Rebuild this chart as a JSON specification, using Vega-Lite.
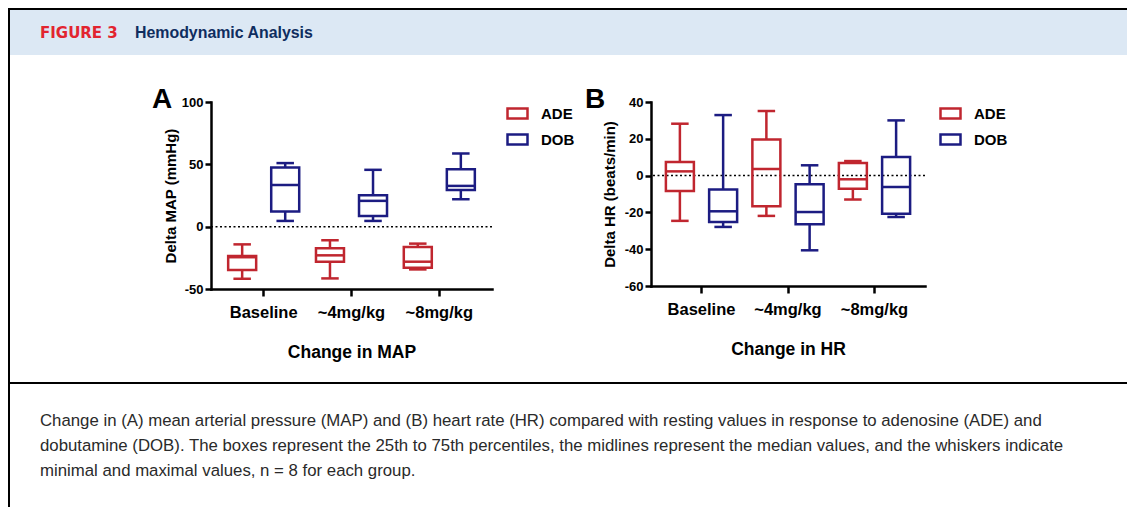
{
  "$schema": "https://vega.github.io/schema/vega-lite/v6.json",
  "padding": {"left": 8, "top": 8, "right": 0, "bottom": 0},
  "background": "white",
  "spacing": 0,
  "bounds": "flush",
  "resolve": {"scale": {"color": "independent", "xOffset": "independent"}, "legend": {"color": "independent"}},
  "config": {
    "view": {"stroke": null},
    "font": "Liberation Sans",
    "tick": {"opacity": 1},
    "axis": {"domainColor": "black", "domainWidth": 2.5, "domainCap": "square", "tickColor": "black", "tickWidth": 2.5, "labelColor": "black", "labelFontWeight": "bold", "titleColor": "black", "titleFontWeight": "bold", "grid": false, "labelFont": "Liberation Sans", "titleFont": "Liberation Sans", "labelOverlap": false},
    "axisX": {"labelFontSize": 16.5, "labelAngle": 0, "tickSize": 7, "labelPadding": 8, "titleFontSize": 17.5, "titlePadding": 23},
    "axisY": {"labelFontSize": 13, "tickSize": 6, "labelPadding": 2, "titleFontSize": 15, "titlePadding": 3},
    "legend": {"orient": "right", "offset": 14, "padding": 0, "symbolType": "M-1,-0.5H1V0.5H-1Z", "symbolSize": 400, "symbolStrokeWidth": 2.5, "symbolFillColor": "white", "labelFontSize": 15, "labelFontWeight": "bold", "labelColor": "black", "labelFont": "Liberation Sans", "labelOffset": 12, "rowPadding": 4}
  },
  "hconcat": [
    {"width": 2, "height": 499, "view": {"fill": "black", "stroke": null}, "data": {"values": []}, "mark": "text", "encoding": {}},
    {
      "spacing": 0,
      "bounds": "flush",
      "resolve": {"scale": {"color": "independent", "xOffset": "independent"}, "legend": {"color": "independent"}},
      "vconcat": [
        {"width": 1117, "height": 2, "view": {"fill": "black", "stroke": null}, "data": {"values": []}, "mark": "text", "encoding": {}},
        {
          "spacing": 0,
          "bounds": "flush",
          "hconcat": [
            {"width": 125, "height": 45, "view": {"fill": "#dce8f4", "stroke": null}, "data": {"values": []}, "mark": "text", "encoding": {},
             "title": {"text": "FIGURE 3", "orient": "top", "anchor": "start", "frame": "group", "dx": 30, "offset": -43, "baseline": "alphabetic", "color": "#e2242f", "font": "DejaVu Sans", "fontSize": 15, "fontWeight": "bold"}},
            {"width": 992, "height": 45, "view": {"fill": "#dce8f4", "stroke": null}, "data": {"values": []}, "mark": "text", "encoding": {},
             "title": {"text": "Hemodynamic Analysis", "orient": "top", "anchor": "start", "frame": "group", "dx": 0, "offset": -44, "baseline": "alphabetic", "color": "#0f2d5f", "font": "Liberation Sans", "fontSize": 15.9, "fontWeight": "bold"}}
          ]
        },
        {"width": 10, "height": 92, "data": {"values": []}, "mark": "text", "encoding": {}},
        {
          "spacing": 159,
          "bounds": "flush",
          "resolve": {"scale": {"color": "independent", "xOffset": "independent"}, "legend": {"color": "independent"}},
          "hconcat": [
            {"width": 42, "height": 10, "data": {"values": []}, "mark": "text", "encoding": {}},
            {
              "width": 281,
              "height": 187,
              "title": {"text": "A", "orient": "top", "anchor": "start", "frame": "group", "dx": -59, "offset": -40, "baseline": "alphabetic", "fontSize": 28, "fontWeight": "bold", "font": "Liberation Sans", "color": "black"},
              "data": {"values": [
                {"dose": "Baseline", "drug": "ADE", "min": -41.8, "q1": -34.8, "median": -24.5, "q3": -23.5, "max": -14.2},
                {"dose": "Baseline", "drug": "DOB", "min": 4.6, "q1": 12.1, "median": 33.5, "q3": 47.4, "max": 51},
                {"dose": "~4mg/kg", "drug": "ADE", "min": -41.5, "q1": -28.1, "median": -23, "q3": -17.4, "max": -10.9},
                {"dose": "~4mg/kg", "drug": "DOB", "min": 4.6, "q1": 8.6, "median": 20.7, "q3": 25.2, "max": 45.6},
                {"dose": "~8mg/kg", "drug": "ADE", "min": -34.3, "q1": -32.9, "median": -28.1, "q3": -16.3, "max": -13.6},
                {"dose": "~8mg/kg", "drug": "DOB", "min": 22, "q1": 29.5, "median": 32.7, "q3": 46.1, "max": 58.7}
              ]},
              "layer": [
                {"data": {"values": [{}]}, "mark": {"type": "rule", "strokeDash": [2, 2.5], "strokeWidth": 1.5, "color": "black"},
                 "encoding": {"y": {"datum": 0, "type": "quantitative", "scale": {"domain": [-50, 100], "nice": false, "zero": false}, "title": "Delta MAP (mmHg)", "axis": {"values": [-50, 0, 50, 100], "labelExpr": "datum.value + ''"}}}},
                {"mark": {"type": "bar", "filled": false, "strokeWidth": 2.5, "width": 28},
                 "encoding": {
                   "x": {"field": "dose", "type": "nominal", "sort": ["Baseline", "~4mg/kg", "~8mg/kg"], "scale": {"paddingInner": 0, "paddingOuter": 0.1}, "title": "Change in MAP"},
                   "xOffset": {"field": "drug", "type": "nominal", "sort": ["ADE", "DOB"], "scale": {"paddingInner": 0, "paddingOuter": 0.02}},
                   "y": {"field": "q1", "type": "quantitative", "scale": {"domain": [-50, 100], "nice": false, "zero": false}, "title": "Delta MAP (mmHg)", "axis": {"values": [-50, 0, 50, 100], "labelExpr": "datum.value + ''"}},
                   "y2": {"field": "q3"},
                   "color": {"field": "drug", "type": "nominal", "scale": {"domain": ["ADE", "DOB"], "range": ["#c0262f", "#1c1c82"]}, "legend": {"title": null}}
                 }},
                {"mark": {"type": "rule", "strokeWidth": 2.5},
                 "encoding": {
                   "x": {"field": "dose", "type": "nominal", "sort": ["Baseline", "~4mg/kg", "~8mg/kg"], "scale": {"paddingInner": 0, "paddingOuter": 0.1}, "title": "Change in MAP"},
                   "xOffset": {"field": "drug", "type": "nominal", "sort": ["ADE", "DOB"], "scale": {"paddingInner": 0, "paddingOuter": 0.02}},
                   "y": {"field": "min", "type": "quantitative", "scale": {"domain": [-50, 100], "nice": false, "zero": false}, "title": "Delta MAP (mmHg)", "axis": {"values": [-50, 0, 50, 100], "labelExpr": "datum.value + ''"}},
                   "y2": {"field": "q1"},
                   "color": {"field": "drug", "type": "nominal", "scale": {"domain": ["ADE", "DOB"], "range": ["#c0262f", "#1c1c82"]}, "legend": {"title": null}}
                 }},
                {"mark": {"type": "rule", "strokeWidth": 2.5},
                 "encoding": {
                   "x": {"field": "dose", "type": "nominal", "sort": ["Baseline", "~4mg/kg", "~8mg/kg"], "scale": {"paddingInner": 0, "paddingOuter": 0.1}, "title": "Change in MAP"},
                   "xOffset": {"field": "drug", "type": "nominal", "sort": ["ADE", "DOB"], "scale": {"paddingInner": 0, "paddingOuter": 0.02}},
                   "y": {"field": "q3", "type": "quantitative", "scale": {"domain": [-50, 100], "nice": false, "zero": false}, "title": "Delta MAP (mmHg)", "axis": {"values": [-50, 0, 50, 100], "labelExpr": "datum.value + ''"}},
                   "y2": {"field": "max"},
                   "color": {"field": "drug", "type": "nominal", "scale": {"domain": ["ADE", "DOB"], "range": ["#c0262f", "#1c1c82"]}, "legend": {"title": null}}
                 }},
                {"mark": {"type": "tick", "filled": false, "opacity": 1, "thickness": 0.5, "strokeWidth": 2, "size": 15.5},
                 "encoding": {
                   "x": {"field": "dose", "type": "nominal", "sort": ["Baseline", "~4mg/kg", "~8mg/kg"], "scale": {"paddingInner": 0, "paddingOuter": 0.1}, "title": "Change in MAP"},
                   "xOffset": {"field": "drug", "type": "nominal", "sort": ["ADE", "DOB"], "scale": {"paddingInner": 0, "paddingOuter": 0.02}},
                   "y": {"field": "min", "type": "quantitative", "scale": {"domain": [-50, 100], "nice": false, "zero": false}, "title": "Delta MAP (mmHg)", "axis": {"values": [-50, 0, 50, 100], "labelExpr": "datum.value + ''"}},
                   "color": {"field": "drug", "type": "nominal", "scale": {"domain": ["ADE", "DOB"], "range": ["#c0262f", "#1c1c82"]}, "legend": {"title": null}}
                 }},
                {"mark": {"type": "tick", "filled": false, "opacity": 1, "thickness": 0.5, "strokeWidth": 2, "size": 15.5},
                 "encoding": {
                   "x": {"field": "dose", "type": "nominal", "sort": ["Baseline", "~4mg/kg", "~8mg/kg"], "scale": {"paddingInner": 0, "paddingOuter": 0.1}, "title": "Change in MAP"},
                   "xOffset": {"field": "drug", "type": "nominal", "sort": ["ADE", "DOB"], "scale": {"paddingInner": 0, "paddingOuter": 0.02}},
                   "y": {"field": "max", "type": "quantitative", "scale": {"domain": [-50, 100], "nice": false, "zero": false}, "title": "Delta MAP (mmHg)", "axis": {"values": [-50, 0, 50, 100], "labelExpr": "datum.value + ''"}},
                   "color": {"field": "drug", "type": "nominal", "scale": {"domain": ["ADE", "DOB"], "range": ["#c0262f", "#1c1c82"]}, "legend": {"title": null}}
                 }},
                {"mark": {"type": "tick", "filled": false, "opacity": 1, "thickness": 0.5, "strokeWidth": 2, "size": 26},
                 "encoding": {
                   "x": {"field": "dose", "type": "nominal", "sort": ["Baseline", "~4mg/kg", "~8mg/kg"], "scale": {"paddingInner": 0, "paddingOuter": 0.1}, "title": "Change in MAP"},
                   "xOffset": {"field": "drug", "type": "nominal", "sort": ["ADE", "DOB"], "scale": {"paddingInner": 0, "paddingOuter": 0.02}},
                   "y": {"field": "median", "type": "quantitative", "scale": {"domain": [-50, 100], "nice": false, "zero": false}, "title": "Delta MAP (mmHg)", "axis": {"values": [-50, 0, 50, 100], "labelExpr": "datum.value + ''"}},
                   "color": {"field": "drug", "type": "nominal", "scale": {"domain": ["ADE", "DOB"], "range": ["#c0262f", "#1c1c82"]}, "legend": {"title": null}}
                 }}
              ]
            },
            {
              "width": 274,
              "height": 184,
              "title": {"text": "B", "orient": "top", "anchor": "start", "frame": "group", "dx": -66, "offset": -40, "baseline": "alphabetic", "fontSize": 28, "fontWeight": "bold", "font": "Liberation Sans", "color": "black"},
              "data": {"values": [
                {"dose": "Baseline", "drug": "ADE", "min": -24.6, "q1": -8.4, "median": 2.3, "q3": 7.4, "max": 28.2},
                {"dose": "Baseline", "drug": "DOB", "min": -27.9, "q1": -25.2, "median": -19.4, "q3": -7.6, "max": 32.9},
                {"dose": "~4mg/kg", "drug": "ADE", "min": -21.9, "q1": -16.7, "median": 3.6, "q3": 19.6, "max": 35.1},
                {"dose": "~4mg/kg", "drug": "DOB", "min": -40.6, "q1": -26.5, "median": -19.8, "q3": -4.7, "max": 5.6},
                {"dose": "~8mg/kg", "drug": "ADE", "min": -13, "q1": -7.1, "median": -2, "q3": 6.9, "max": 7.9},
                {"dose": "~8mg/kg", "drug": "DOB", "min": -22.5, "q1": -20.7, "median": -6.2, "q3": 10.1, "max": 30}
              ]},
              "layer": [
                {"data": {"values": [{}]}, "mark": {"type": "rule", "strokeDash": [2, 2.5], "strokeWidth": 1.5, "color": "black"},
                 "encoding": {"y": {"datum": 0, "type": "quantitative", "scale": {"domain": [-60, 40], "nice": false, "zero": false}, "title": "Delta HR (beats/min)", "axis": {"values": [-60, -40, -20, 0, 20, 40], "labelExpr": "datum.value + ''", "titlePadding": 7}}}},
                {"mark": {"type": "bar", "filled": false, "strokeWidth": 2.5, "width": 28},
                 "encoding": {
                   "x": {"field": "dose", "type": "nominal", "sort": ["Baseline", "~4mg/kg", "~8mg/kg"], "scale": {"paddingInner": 0, "paddingOuter": 0.084}, "title": "Change in HR"},
                   "xOffset": {"field": "drug", "type": "nominal", "sort": ["ADE", "DOB"], "scale": {"paddingInner": 0, "paddingOuter": 0}},
                   "y": {"field": "q1", "type": "quantitative", "scale": {"domain": [-60, 40], "nice": false, "zero": false}, "title": "Delta HR (beats/min)", "axis": {"values": [-60, -40, -20, 0, 20, 40], "labelExpr": "datum.value + ''", "titlePadding": 7}},
                   "y2": {"field": "q3"},
                   "color": {"field": "drug", "type": "nominal", "scale": {"domain": ["ADE", "DOB"], "range": ["#c0262f", "#1c1c82"]}, "legend": {"title": null}}
                 }},
                {"mark": {"type": "rule", "strokeWidth": 2.5},
                 "encoding": {
                   "x": {"field": "dose", "type": "nominal", "sort": ["Baseline", "~4mg/kg", "~8mg/kg"], "scale": {"paddingInner": 0, "paddingOuter": 0.084}, "title": "Change in HR"},
                   "xOffset": {"field": "drug", "type": "nominal", "sort": ["ADE", "DOB"], "scale": {"paddingInner": 0, "paddingOuter": 0}},
                   "y": {"field": "min", "type": "quantitative", "scale": {"domain": [-60, 40], "nice": false, "zero": false}, "title": "Delta HR (beats/min)", "axis": {"values": [-60, -40, -20, 0, 20, 40], "labelExpr": "datum.value + ''", "titlePadding": 7}},
                   "y2": {"field": "q1"},
                   "color": {"field": "drug", "type": "nominal", "scale": {"domain": ["ADE", "DOB"], "range": ["#c0262f", "#1c1c82"]}, "legend": {"title": null}}
                 }},
                {"mark": {"type": "rule", "strokeWidth": 2.5},
                 "encoding": {
                   "x": {"field": "dose", "type": "nominal", "sort": ["Baseline", "~4mg/kg", "~8mg/kg"], "scale": {"paddingInner": 0, "paddingOuter": 0.084}, "title": "Change in HR"},
                   "xOffset": {"field": "drug", "type": "nominal", "sort": ["ADE", "DOB"], "scale": {"paddingInner": 0, "paddingOuter": 0}},
                   "y": {"field": "q3", "type": "quantitative", "scale": {"domain": [-60, 40], "nice": false, "zero": false}, "title": "Delta HR (beats/min)", "axis": {"values": [-60, -40, -20, 0, 20, 40], "labelExpr": "datum.value + ''", "titlePadding": 7}},
                   "y2": {"field": "max"},
                   "color": {"field": "drug", "type": "nominal", "scale": {"domain": ["ADE", "DOB"], "range": ["#c0262f", "#1c1c82"]}, "legend": {"title": null}}
                 }},
                {"mark": {"type": "tick", "filled": false, "opacity": 1, "thickness": 0.5, "strokeWidth": 2, "size": 15.5},
                 "encoding": {
                   "x": {"field": "dose", "type": "nominal", "sort": ["Baseline", "~4mg/kg", "~8mg/kg"], "scale": {"paddingInner": 0, "paddingOuter": 0.084}, "title": "Change in HR"},
                   "xOffset": {"field": "drug", "type": "nominal", "sort": ["ADE", "DOB"], "scale": {"paddingInner": 0, "paddingOuter": 0}},
                   "y": {"field": "min", "type": "quantitative", "scale": {"domain": [-60, 40], "nice": false, "zero": false}, "title": "Delta HR (beats/min)", "axis": {"values": [-60, -40, -20, 0, 20, 40], "labelExpr": "datum.value + ''", "titlePadding": 7}},
                   "color": {"field": "drug", "type": "nominal", "scale": {"domain": ["ADE", "DOB"], "range": ["#c0262f", "#1c1c82"]}, "legend": {"title": null}}
                 }},
                {"mark": {"type": "tick", "filled": false, "opacity": 1, "thickness": 0.5, "strokeWidth": 2, "size": 15.5},
                 "encoding": {
                   "x": {"field": "dose", "type": "nominal", "sort": ["Baseline", "~4mg/kg", "~8mg/kg"], "scale": {"paddingInner": 0, "paddingOuter": 0.084}, "title": "Change in HR"},
                   "xOffset": {"field": "drug", "type": "nominal", "sort": ["ADE", "DOB"], "scale": {"paddingInner": 0, "paddingOuter": 0}},
                   "y": {"field": "max", "type": "quantitative", "scale": {"domain": [-60, 40], "nice": false, "zero": false}, "title": "Delta HR (beats/min)", "axis": {"values": [-60, -40, -20, 0, 20, 40], "labelExpr": "datum.value + ''", "titlePadding": 7}},
                   "color": {"field": "drug", "type": "nominal", "scale": {"domain": ["ADE", "DOB"], "range": ["#c0262f", "#1c1c82"]}, "legend": {"title": null}}
                 }},
                {"mark": {"type": "tick", "filled": false, "opacity": 1, "thickness": 0.5, "strokeWidth": 2, "size": 26},
                 "encoding": {
                   "x": {"field": "dose", "type": "nominal", "sort": ["Baseline", "~4mg/kg", "~8mg/kg"], "scale": {"paddingInner": 0, "paddingOuter": 0.084}, "title": "Change in HR"},
                   "xOffset": {"field": "drug", "type": "nominal", "sort": ["ADE", "DOB"], "scale": {"paddingInner": 0, "paddingOuter": 0}},
                   "y": {"field": "median", "type": "quantitative", "scale": {"domain": [-60, 40], "nice": false, "zero": false}, "title": "Delta HR (beats/min)", "axis": {"values": [-60, -40, -20, 0, 20, 40], "labelExpr": "datum.value + ''", "titlePadding": 7}},
                   "color": {"field": "drug", "type": "nominal", "scale": {"domain": ["ADE", "DOB"], "range": ["#c0262f", "#1c1c82"]}, "legend": {"title": null}}
                 }}
              ]
            }
          ]
        },
        {"width": 10, "height": 280, "data": {"values": []}, "mark": "text", "encoding": {}},
        {"width": 1117, "height": 2, "view": {"fill": "black", "stroke": null}, "data": {"values": []}, "mark": "text", "encoding": {},
         "title": {"text": ["Change in (A) mean arterial pressure (MAP) and (B) heart rate (HR) compared with resting values in response to adenosine (ADE) and", "dobutamine (DOB). The boxes represent the 25th to 75th percentiles, the midlines represent the median values, and the whiskers indicate", "minimal and maximal values, n = 8 for each group."],
                   "orient": "bottom", "anchor": "start", "frame": "group", "dx": 30, "offset": 42, "baseline": "alphabetic", "lineHeight": 25, "fontSize": 16.8, "fontWeight": "normal", "font": "Liberation Sans", "color": "#2a2a2a"}}
      ]
    }
  ]
}
